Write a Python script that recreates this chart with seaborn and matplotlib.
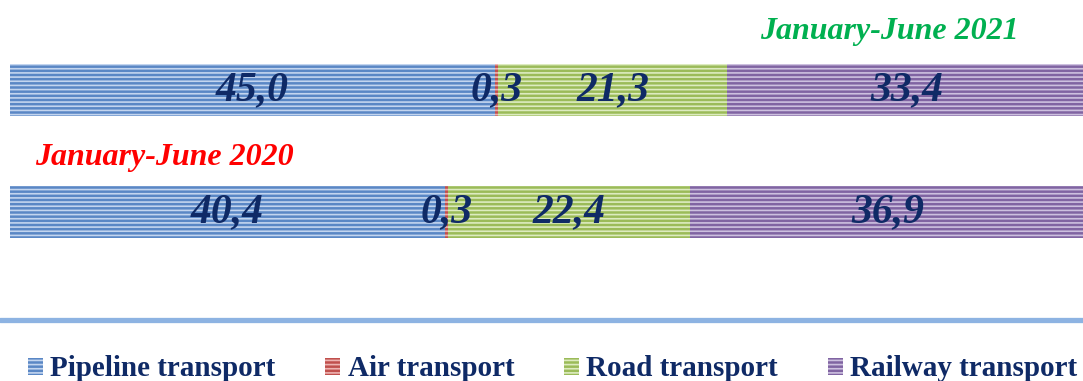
import matplotlib
matplotlib.use("Agg")
import matplotlib.pyplot as plt
from matplotlib.patches import Patch
from matplotlib.lines import Line2D
import numpy as np
import pandas as pd
import seaborn as sns

# Structure of freight turnover by mode of transport, %
periods = ["January-June 2021", "January-June 2020"]
modes = ["Pipeline transport", "Air transport", "Road transport", "Railway transport"]
share_2021 = [45.0, 0.3, 21.3, 33.4]
share_2020 = [40.4, 0.3, 22.4, 36.9]

face_colors = ["#5A87C5", "#C0504D", "#9BBB59", "#8064A2"]
stripe_colors = ["#C3D5EF", "#EDB3B1", "#DDEBC0", "#CDC0DF"]
label_color = "#0F2A66"
period_colors = ["#00B050", "#FF0000"]

sns.set_theme(style="white")
plt.rcParams["font.family"] = ["Liberation Serif", "DejaVu Serif"]
plt.rcParams["hatch.linewidth"] = 1.2

W, H = 1083, 381
fig = plt.figure(figsize=(W / 100, H / 100), dpi=100)
ax = fig.add_axes([10 / W, 0, 1077 / W, 1])

shares = np.array([share_2021, share_2020])
left_edges = np.hstack([np.zeros((2, 1)), np.cumsum(shares, axis=1)[:, :-1]])
right_edges = np.cumsum(shares, axis=1)

# stacked bars: draw cumulative totals from the last segment to the first
for i in reversed(range(len(modes))):
    df = pd.DataFrame({"period": periods, "total": right_edges[:, i]})
    sns.barplot(data=df, x="total", y="period", orient="h", ax=ax,
                color=face_colors[i], saturation=1, width=0.42,
                edgecolor=stripe_colors[i], linewidth=0, hatch="----")

# value labels at the middle of each segment
for r in range(2):
    for i in range(len(modes)):
        mid = left_edges[r, i] + shares[r, i] / 2
        ax.text(mid, r, f"{shares[r, i]:.1f}".replace(".", ","),
                ha="center", va="center", fontsize=30, fontweight="bold",
                fontstyle="italic", color=label_color)

ax.set_xlim(0, 100)
ax.set_ylim((H - 90) / 122, -90 / 122)
ax.axis("off")

# period captions
fig.text(760 / W, 1 - 32 / H, periods[0], ha="left", va="center",
         fontsize=23, fontweight="bold", fontstyle="italic", color=period_colors[0])
fig.text(35 / W, 1 - 157 / H, periods[1], ha="left", va="center",
         fontsize=23, fontweight="bold", fontstyle="italic", color=period_colors[1])

# separator line above the legend
fig.add_artist(Line2D([0, 1], [1 - 320 / H, 1 - 320 / H], transform=fig.transFigure,
                      color="#8DB3E2", linewidth=3.8))

handles = [Patch(facecolor=face_colors[i], edgecolor=stripe_colors[i], linewidth=0,
                 hatch="----") for i in range(len(modes))]
fig.legend(handles, modes, loc="center left", bbox_to_anchor=(28 / W, 1 - 369 / H),
           ncol=4, frameon=False, borderpad=0, borderaxespad=0,
           handlelength=0.52, handleheight=0.52, handletextpad=0.25,
           columnspacing=1.7, prop={"size": 21, "weight": "bold"},
           labelcolor="#0F2A66")

fig.savefig("out.png", dpi=100)
